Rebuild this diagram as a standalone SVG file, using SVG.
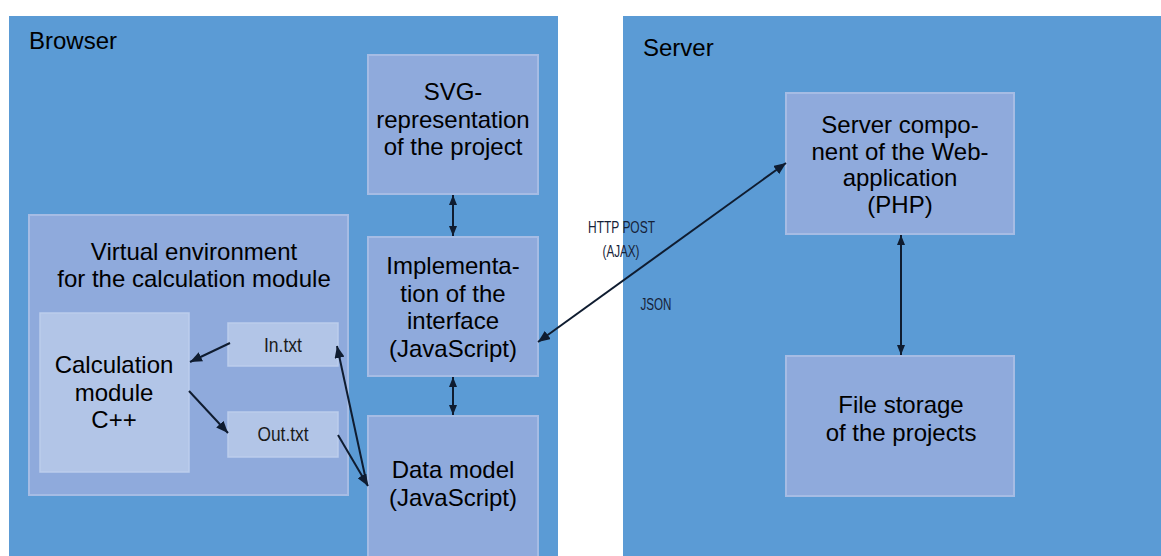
<svg xmlns="http://www.w3.org/2000/svg" width="1161" height="556" viewBox="0 0 1161 556">
<style>
.panel{fill:#5b9bd5}
.box{fill:#8faadc;stroke:#a6bce4;stroke-width:2}
.lbox{fill:#b2c5e7;stroke:#bccdec;stroke-width:1.5}
.t{font-family:"Liberation Sans",Arial,sans-serif;font-size:24px;fill:#000;text-anchor:middle}
.title{font-family:"Liberation Sans",Arial,sans-serif;font-size:24px;fill:#000}
.n{font-family:"Liberation Sans",Arial,sans-serif;font-size:21px;fill:#1a1a1a;text-anchor:middle}
.s{font-family:"Liberation Sans",Arial,sans-serif;font-size:16px;fill:#162238;text-anchor:middle}
.c{stroke:#0f1c30;stroke-width:2;fill:none}
</style>
<defs>
<marker id="ah" viewBox="0 0 12 10" refX="12" refY="5" markerWidth="12" markerHeight="10" markerUnits="userSpaceOnUse" orient="auto-start-reverse">
<path d="M0,0 L12,5 L0,10 z" fill="#0f1c30"/>
</marker>
<marker id="ahs" viewBox="0 0 10 8" refX="10" refY="4" markerWidth="10" markerHeight="8" markerUnits="userSpaceOnUse" orient="auto-start-reverse">
<path d="M0,0 L10,4 L0,8 z" fill="#0f1c30"/>
</marker>
</defs>
<rect width="1161" height="556" fill="#ffffff"/>
<g id="browser">
<rect class="panel" x="9" y="16" width="549" height="545"/>
<text class="title" x="29" y="49">Browser</text>
</g>
<g id="server">
<rect class="panel" x="623" y="16" width="545" height="545"/>
<text class="title" x="643" y="56">Server</text>
</g>
<g id="svg-representation">
<rect class="box" x="368" y="55" width="170" height="139"/>
<text class="t" x="453" y="100">SVG-</text>
<text class="t" x="453" y="128">representation</text>
<text class="t" x="453" y="155">of the project</text>
</g>
<g id="implementation">
<rect class="box" x="368" y="237" width="170" height="139"/>
<text class="t" x="453" y="274">Implementa-</text>
<text class="t" x="453" y="301.5">tion of the</text>
<text class="t" x="453" y="329">interface</text>
<text class="t" x="453" y="356.5">(JavaScript)</text>
</g>
<g id="data-model">
<rect class="box" x="368" y="416" width="170" height="150"/>
<text class="t" x="453" y="478">Data model</text>
<text class="t" x="453" y="506">(JavaScript)</text>
</g>
<g id="virtual-environment">
<rect class="box" x="29" y="215" width="319" height="280"/>
<text class="t" x="194" y="260">Virtual environment</text>
<text class="t" x="194" y="287">for the calculation module</text>
</g>
<g id="calculation-module">
<rect class="lbox" x="40" y="313" width="149" height="159"/>
<text class="t" x="114" y="373">Calculation</text>
<text class="t" x="114" y="401">module</text>
<text class="t" x="114" y="428">C++</text>
</g>
<g id="in-txt">
<rect class="lbox" x="228" y="323" width="110" height="43"/>
<text class="n" x="283" y="352" textLength="38" lengthAdjust="spacingAndGlyphs">In.txt</text>
</g>
<g id="out-txt">
<rect class="lbox" x="228" y="412" width="110" height="45"/>
<text class="n" x="283" y="441" textLength="51" lengthAdjust="spacingAndGlyphs">Out.txt</text>
</g>
<g id="server-component">
<rect class="box" x="786" y="93" width="228" height="141"/>
<text class="t" x="900" y="133">Server compo-</text>
<text class="t" x="900" y="159.5">nent of the Web-</text>
<text class="t" x="900" y="186">application</text>
<text class="t" x="900" y="212.5">(PHP)</text>
</g>
<g id="file-storage">
<rect class="box" x="786" y="356" width="228" height="140"/>
<text class="t" x="901" y="413">File storage</text>
<text class="t" x="901" y="441">of the projects</text>
</g>
<g id="connectors">
<line class="c" x1="453" y1="195" x2="453" y2="236" marker-start="url(#ahs)" marker-end="url(#ahs)"/>
<line class="c" x1="453" y1="377" x2="453" y2="415" marker-start="url(#ahs)" marker-end="url(#ahs)"/>
<line class="c" x1="901" y1="235" x2="901" y2="355" marker-start="url(#ahs)" marker-end="url(#ahs)"/>
<line class="c" x1="538" y1="342" x2="786" y2="163" marker-start="url(#ah)" marker-end="url(#ah)"/>
<line class="c" x1="230" y1="343" x2="190" y2="362" marker-end="url(#ah)"/>
<line class="c" x1="189" y1="391" x2="228" y2="433" marker-end="url(#ah)"/>
<line class="c" x1="367" y1="485" x2="337" y2="346" marker-end="url(#ah)"/>
<line class="c" x1="338" y1="435" x2="368" y2="486" marker-end="url(#ah)"/>
<text class="s" x="621.5" y="233" textLength="67" lengthAdjust="spacingAndGlyphs">HTTP POST</text>
<text class="s" x="621" y="257" textLength="37" lengthAdjust="spacingAndGlyphs">(AJAX)</text>
<text class="s" x="656" y="310" textLength="31" lengthAdjust="spacingAndGlyphs">JSON</text>
</g>
</svg>
